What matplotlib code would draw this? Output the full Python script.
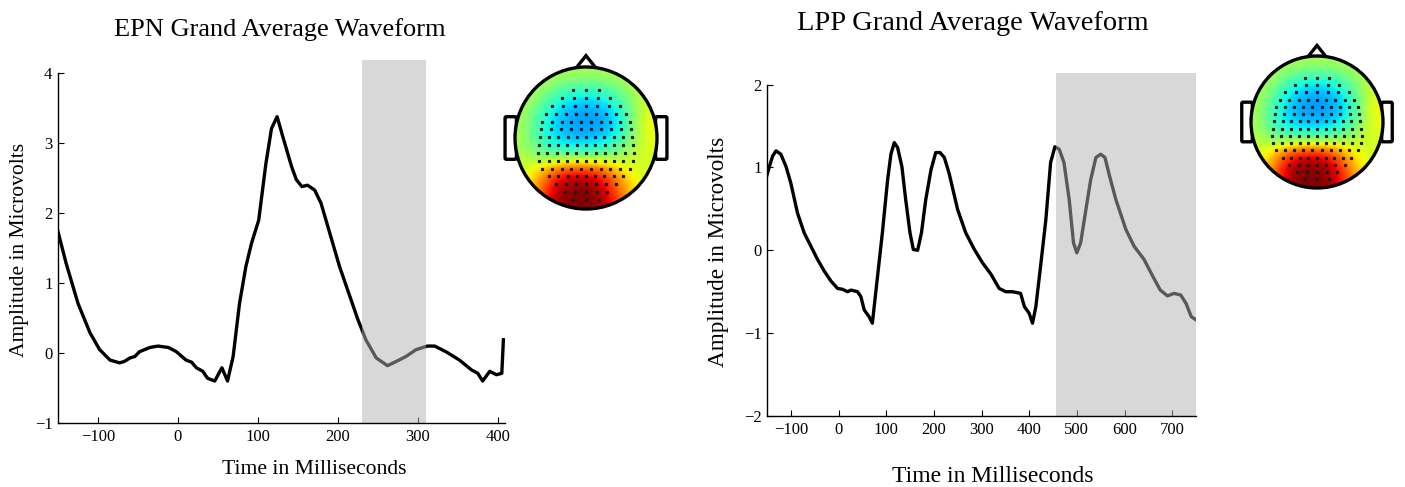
import numpy as np
import matplotlib
matplotlib.use("Agg")
import matplotlib.pyplot as plt
from matplotlib.patches import Circle, Polygon, FancyBboxPatch

plt.rcParams['font.family'] = ['Liberation Serif', 'DejaVu Serif']

# ---------------- data ----------------
epn_time = [-151, -140, -125, -110, -98, -85, -73, -67, -60, -54, -48, -35, -25, -12, -2,
            10, 17, 23, 31, 37, 46, 55, 62, 69, 77, 85, 92, 101, 110, 117, 124, 131,
            142, 148, 155, 162, 171, 179, 190, 202, 215, 225, 235, 248, 262, 273, 285,
            298, 312, 321, 335, 352, 367, 375, 381, 390, 398, 405, 407]
epn_amp = [1.78, 1.29, 0.71, 0.29, 0.05, -0.10, -0.14, -0.12, -0.07, -0.05, 0.02, 0.08, 0.10,
           0.08, 0.02, -0.10, -0.13, -0.21, -0.26, -0.36, -0.40, -0.21, -0.40, -0.05, 0.71,
           1.24, 1.57, 1.90, 2.71, 3.21, 3.38, 3.10, 2.67, 2.48, 2.38, 2.40, 2.33, 2.14,
           1.71, 1.24, 0.81, 0.48, 0.19, -0.07, -0.18, -0.12, -0.05, 0.05, 0.10, 0.10,
           0.02, -0.10, -0.24, -0.29, -0.40, -0.26, -0.31, -0.29, 0.19]
epn_window = (230, 310)
epn_xticks = [-100, 0, 100, 200, 300, 400]
epn_yticks = [-1, 0, 1, 2, 3, 4]

lpp_time = [-151, -145, -138, -131, -121, -110, -100, -86, -72, -58, -44, -30, -16, -2, 8,
            19, 26, 40, 47, 54, 64, 71, 82, 92, 103, 110, 117, 124, 133, 141, 150, 157,
            166, 174, 183, 194, 204, 213, 222, 232, 250, 267, 285, 302, 320, 337, 351,
            365, 382, 390, 400, 407, 414, 424, 435, 445, 454, 463, 473, 484, 493, 500,
            508, 519, 529, 540, 550, 559, 568, 582, 603, 620, 641, 659, 675, 690, 704,
            718, 729, 740, 750]
lpp_amp = [0.89, 1.01, 1.14, 1.20, 1.16, 1.01, 0.81, 0.45, 0.21, 0.05, -0.11, -0.25, -0.37,
           -0.46, -0.47, -0.50, -0.48, -0.50, -0.56, -0.72, -0.80, -0.88, -0.31, 0.21, 0.85,
           1.16, 1.30, 1.24, 1.01, 0.61, 0.21, 0.01, 0.00, 0.21, 0.61, 0.97, 1.18, 1.18,
           1.12, 0.93, 0.49, 0.21, 0.01, -0.15, -0.29, -0.46, -0.50, -0.50, -0.52, -0.68,
           -0.76, -0.88, -0.68, -0.19, 0.37, 1.06, 1.25, 1.22, 1.06, 0.61, 0.09, -0.03,
           0.09, 0.49, 0.85, 1.12, 1.16, 1.12, 0.91, 0.61, 0.25, 0.05, -0.11, -0.31, -0.48,
           -0.55, -0.52, -0.54, -0.64, -0.80, -0.84]
lpp_window = (456, 750)
lpp_xticks = [-100, 0, 100, 200, 300, 400, 500, 600, 700]
lpp_yticks = [-2, -1, 0, 1, 2]

# scalp topography (jet-normalised values, rows top->bottom, cols left->right)
topo_grid = [
    [0.57, 0.57, 0.56, 0.55, 0.55, 0.55, 0.56, 0.57, 0.58],
    [0.57, 0.55, 0.47, 0.42, 0.40, 0.42, 0.48, 0.55, 0.60],
    [0.56, 0.47, 0.37, 0.31, 0.29, 0.31, 0.38, 0.52, 0.62],
    [0.55, 0.42, 0.33, 0.28, 0.27, 0.28, 0.34, 0.50, 0.66],
    [0.55, 0.42, 0.34, 0.31, 0.30, 0.32, 0.38, 0.52, 0.64],
    [0.56, 0.49, 0.44, 0.43, 0.43, 0.45, 0.51, 0.58, 0.62],
    [0.60, 0.68, 0.80, 0.87, 0.87, 0.82, 0.70, 0.62, 0.60],
    [0.62, 0.76, 0.93, 0.99, 0.99, 0.95, 0.80, 0.66, 0.60],
    [0.64, 0.80, 0.96, 1.00, 1.00, 0.97, 0.85, 0.70, 0.62],
]
# electrode rows: (y, half width, count)
electrode_rows = [(0.67, 0.18, 3), (0.56, 0.34, 5), (0.45, 0.48, 7), (0.34, 0.56, 9),
                  (0.23, 0.62, 10), (0.12, 0.64, 10), (0.01, 0.65, 11), (-0.10, 0.66, 11),
                  (-0.21, 0.68, 11), (-0.32, 0.66, 11), (-0.43, 0.62, 10), (-0.54, 0.52, 9),
                  (-0.65, 0.42, 7), (-0.76, 0.30, 5), (-0.87, 0.18, 3)]

W, H = 1405, 487
fig = plt.figure(figsize=(W / 100, H / 100), dpi=100)


def px_axes(x0, y0, x1, y1):
    return fig.add_axes([x0 / W, 1 - y1 / H, (x1 - x0) / W, (y1 - y0) / H])


def waveform(ax, t, a, window, xlim, ylim, ybounds, xticks, yticks):
    ax.plot(t, a, color='black', lw=2.4, zorder=2, solid_joinstyle='round')
    ax.axvspan(window[0], window[1], color='#b3b3b3', alpha=0.5, lw=0, zorder=3)
    ax.set_xlim(*xlim)
    ax.set_ylim(*ylim)
    for s in ['top', 'right']:
        ax.spines[s].set_visible(False)
    ax.spines['left'].set_bounds(*ybounds)
    for s in ['left', 'bottom']:
        ax.spines[s].set_linewidth(1.0)
        ax.spines[s].set_zorder(4)
    ax.set_xticks(xticks)
    ax.set_yticks(yticks)
    ax.tick_params(direction='in', length=4, width=0.8, labelsize=12, pad=4)


# left chart
ax1 = px_axes(58, 60, 505, 423)
waveform(ax1, epn_time, epn_amp, epn_window, (-150, 409), (-1, 4.19), (-1, 4),
         epn_xticks, epn_yticks)
fig.text(280 / W, 1 - 30 / H, 'EPN Grand Average Waveform', ha='center', va='center', fontsize=19)
fig.text(20 / W, 1 - 250 / H, 'Amplitude in Microvolts', rotation=90, ha='center', va='center',
         fontsize=15.5)
fig.text(314 / W, 1 - 470 / H, 'Time in Milliseconds', ha='center', va='center', fontsize=15.6)

# right chart
ax2 = px_axes(767, 73, 1196, 416)
waveform(ax2, lpp_time, lpp_amp, lpp_window, (-150, 750), (-2, 2.14), (-2, 2),
         lpp_xticks, lpp_yticks)
fig.text(973 / W, 1 - 23 / H, 'LPP Grand Average Waveform', ha='center', va='center', fontsize=20.4)
fig.text(718 / W, 1 - 252 / H, 'Amplitude in Microvolts', rotation=90, ha='center', va='center',
         fontsize=16.7)
fig.text(993 / W, 1 - 476 / H, 'Time in Milliseconds', ha='center', va='center', fontsize=17)


def topomap(cx, cy, r):
    s = 1.32
    ax = px_axes(cx - r * s, cy - r * s, cx + r * s, cy + r * s)
    ax.set_xlim(-s, s)
    ax.set_ylim(-s, s)
    ax.set_aspect('equal')
    ax.axis('off')
    im = ax.imshow(np.array(topo_grid), cmap='jet', vmin=0, vmax=1, extent=[-1, 1, -1, 1],
                   interpolation='bicubic', zorder=1)
    clip = Circle((0, 0), 1, transform=ax.transData)
    im.set_clip_path(clip)
    # ears
    for sx in (-1, 1):
        ear = FancyBboxPatch((sx * 1.0 - (0.12 if sx < 0 else 0.0), -0.28), 0.12, 0.56,
                             boxstyle='round,pad=0.02', fc='white', ec='black', lw=2.4, zorder=0.5)
        ax.add_patch(ear)
    nose = Polygon([[-0.14, 0.985], [0, 1.16], [0.14, 0.985]], closed=False, fc='white',
                   ec='black', lw=2.4, zorder=0.5)
    ax.add_patch(nose)
    ax.add_patch(Circle((0, 0), 1, fc='none', ec='black', lw=2.4, zorder=3))
    for (y, hw, n) in electrode_rows:
        xs = np.linspace(-hw, hw, n)
        ax.plot(xs, np.full(n, y), ls='none', marker='s', ms=1.3, color='#1a1a1a', zorder=2)


topomap(586, 138, 71)
topomap(1317, 122, 66)

fig.savefig('out.png', dpi=100)
